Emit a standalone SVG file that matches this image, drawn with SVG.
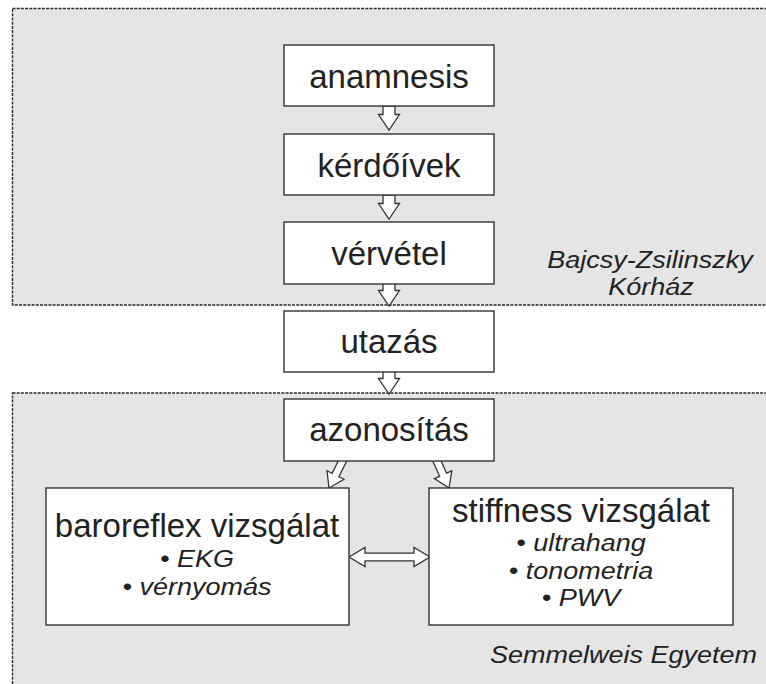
<svg xmlns="http://www.w3.org/2000/svg" width="766" height="684" viewBox="0 0 766 684">
  <style>
    .region { fill: #e5e5e5; stroke: #2a2a2a; stroke-width: 1.4; stroke-dasharray: 3 1.2; }
    .box { fill: #ffffff; stroke: #333; stroke-width: 1.4; }
    .arrow { fill: #ffffff; stroke: #333; stroke-width: 1.3; stroke-linejoin: miter; }
    .title { font-family: "Liberation Sans", Arial, sans-serif; font-size: 33px; fill: #222; text-anchor: middle; }
    .item { font-family: "Liberation Sans", Arial, sans-serif; font-size: 24.5px; font-style: italic; fill: #222; text-anchor: middle; }
    .place { font-family: "Liberation Sans", Arial, sans-serif; font-size: 24.5px; font-style: italic; fill: #222; }
  </style>
  <defs>
    <!-- block arrow pointing down, origin at its tip -->
    <path id="arrowDown" d="M-6,-24 L6,-24 L6,-15.5 L10.5,-15.5 L0,0 L-10.5,-15.5 L-6,-15.5 Z"/>
    <!-- slimmer block arrow for the branching links, origin at its tip -->
    <path id="arrowSlim" d="M-3.8,-34 L3.8,-34 L3.8,-14.5 L9.5,-14.5 L0,0 L-9.5,-14.5 L-3.8,-14.5 Z"/>
  </defs>

  <!-- site areas -->
  <g id="site-hospital">
    <rect class="region" x="12.5" y="8.5" width="770" height="296.5"/>
    <text class="place" x="650" y="267.5" text-anchor="middle" textLength="205.5" lengthAdjust="spacingAndGlyphs">Bajcsy-Zsilinszky</text>
    <text class="place" x="651" y="295.3" text-anchor="middle" textLength="85.5" lengthAdjust="spacingAndGlyphs">Kórház</text>
  </g>
  <g id="site-university">
    <rect class="region" x="12.5" y="393" width="770" height="310"/>
    <text class="place" x="757" y="663" text-anchor="end" textLength="267" lengthAdjust="spacingAndGlyphs">Semmelweis Egyetem</text>
  </g>

  <!-- connectors -->
  <g id="connectors">
    <use href="#arrowDown" class="arrow" x="389" y="130"/>
    <use href="#arrowDown" class="arrow" x="389" y="219"/>
    <use href="#arrowDown" class="arrow" x="389" y="306"/>
    <use href="#arrowDown" class="arrow" x="389" y="394"/>
    <use href="#arrowSlim" class="arrow" transform="translate(329,488) rotate(26.6)"/>
    <use href="#arrowSlim" class="arrow" transform="translate(449,488) rotate(-24)"/>
    <polygon class="arrow" points="349,557 365,547.5 365,553.2 414,553.2 414,547.5 430,557 414,566.5 414,560.8 365,560.8 365,566.5"/>
  </g>

  <!-- nodes -->
  <g id="anamnesis">
    <rect class="box" x="284" y="45" width="210" height="61"/>
    <text class="title" x="389" y="87.5">anamnesis</text>
  </g>
  <g id="kerdoivek">
    <rect class="box" x="284" y="134" width="210" height="61"/>
    <text class="title" x="389" y="176.5">kérdőívek</text>
  </g>
  <g id="vervetel">
    <rect class="box" x="284" y="222" width="210" height="62"/>
    <text class="title" x="389" y="265">vérvétel</text>
  </g>
  <g id="utazas">
    <rect class="box" x="284" y="311" width="210" height="61"/>
    <text class="title" x="389" y="353">utazás</text>
  </g>
  <g id="azonositas">
    <rect class="box" x="284" y="399" width="210" height="62"/>
    <text class="title" x="389" y="441">azonosítás</text>
  </g>
  <g id="baroreflex">
    <rect class="box" x="46" y="488" width="303" height="137"/>
    <text class="title" x="197" y="536.5">baroreflex vizsgálat</text>
    <text class="item" x="197" y="566.5" textLength="74" lengthAdjust="spacingAndGlyphs">• EKG</text>
    <text class="item" x="197" y="595" textLength="149" lengthAdjust="spacingAndGlyphs">• vérnyomás</text>
  </g>
  <g id="stiffness">
    <rect class="box" x="429" y="488" width="304" height="137"/>
    <text class="title" x="581" y="521.5">stiffness vizsgálat</text>
    <text class="item" x="581" y="551" textLength="129.5" lengthAdjust="spacingAndGlyphs">• ultrahang</text>
    <text class="item" x="581" y="578.5" textLength="144.5" lengthAdjust="spacingAndGlyphs">• tonometria</text>
    <text class="item" x="581" y="606" textLength="78.5" lengthAdjust="spacingAndGlyphs">• PWV</text>
  </g>
</svg>
